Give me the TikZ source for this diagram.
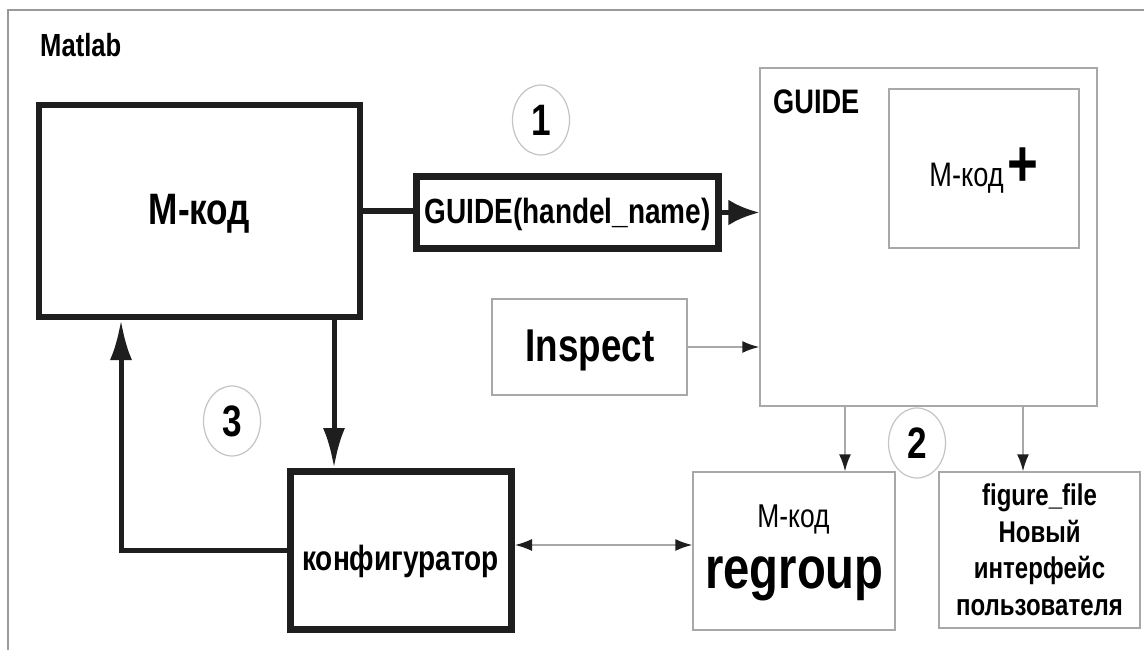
\documentclass[tikz,border=0pt]{standalone}
\usepackage{fontspec}
\setmainfont{Liberation Sans}[FakeStretch=0.8]
\usetikzlibrary{arrows.meta,shapes.geometric}
\definecolor{ink}{HTML}{1E1E1E}
\definecolor{thin}{HTML}{A8A8A8}
\definecolor{framec}{HTML}{9A9A9A}
\definecolor{circc}{HTML}{C4C4C4}
\begin{document}
\begin{tikzpicture}[x=1pt,y=-1pt,
  thickbox/.style={draw=ink, line width=6pt, rectangle, inner sep=0pt, fill=white},
  thinbox/.style={draw=thin, line width=1.5pt, rectangle, inner sep=0pt, fill=white},
  numc/.style={ellipse, draw=circc, line width=1.2pt, minimum width=57pt, minimum height=70pt, inner sep=0pt, fill=white, font=\fontsize{44}{44}\selectfont\bfseries},
  lbl/.style={inner sep=0pt, anchor=base},
  bigarrow/.style={draw=ink, line width=5pt, -{Latex[length=40pt,width=22pt]}},
  headarrow/.style={draw=ink, line width=5pt, -{Latex[length=31pt,width=26pt]}},
  thinarrow/.style={draw=thin, line width=1.5pt, -{Latex[length=17pt,width=12pt,color=ink]}},
  thinboth/.style={draw=thin, line width=1.5pt, {Latex[length=17pt,width=12pt,color=ink]}-{Latex[length=17pt,width=12pt,color=ink]}}
]
\useasboundingbox (0,0) rectangle (1144,650);
\fill[white] (0,0) rectangle (1144,650);
% frame
\draw[framec, line width=1.5pt] (1144,10) -- (8,10) -- (8,650);
\node[lbl, anchor=base west, font=\fontsize{32}{32}\selectfont\bfseries] (matlab) at (40,57) {Matlab};

% boxes
\node[thickbox, minimum width=321pt, minimum height=212pt] (mkod) at (199.5,211) {};
\node[lbl, font=\fontsize{44}{44}\selectfont\bfseries] (mkodt) at (199.5,225) {М-код};

\node[thickbox, line width=7pt, minimum width=302pt, minimum height=72pt] (gh) at (567.5,212.5) {};
\node[lbl, font=\fontsize{35}{35}\selectfont\bfseries] (ght) at (567.5,223) {GUIDE(handel\_name)};

\node[thinbox, minimum width=337pt, minimum height=338pt] (guide) at (928.5,237) {};
\node[lbl, anchor=base west, font=\fontsize{34}{34}\selectfont\bfseries] (guidet) at (773,114) {GUIDE};
\node[thinbox, minimum width=190pt, minimum height=159pt] (inner) at (984,168.5) {};
\node[lbl, font=\fontsize{34}{34}\selectfont] (innert) at (984,187) {М-код\hspace{4pt}{\fontsize{66}{66}\selectfont\bfseries +}};

\node[thinbox, minimum width=195pt, minimum height=96pt] (insp) at (589.5,347) {};
\node[lbl, font=\fontsize{46}{46}\selectfont\bfseries] (inspt) at (590,361) {Inspect};

\node[thickbox, line width=7pt, minimum width=221pt, minimum height=158pt] (konf) at (401,550.5) {};
\node[lbl, font=\fontsize{35}{35}\selectfont\bfseries] (konft) at (400.5,570) {конфигуратор};

\node[thinbox, minimum width=202pt, minimum height=158pt] (regr) at (794,551) {};
\node[lbl, font=\fontsize{33}{33}\selectfont] (regrm) at (793.5,527) {М-код};
\node[lbl, font=\fontsize{59}{59}\selectfont\bfseries] (regrt) at (794.5,588) {regroup};

\node[thinbox, minimum width=201pt, minimum height=156pt, align=center,
      font=\fontsize{30}{36.5}\selectfont\bfseries] (fig) at (1039.5,550)
  {figure\_file\\Новый\\интерфейс\\пользователя};

% helper coordinates
\coordinate (dn) at (334,0);
\coordinate (up) at (121,0);
\coordinate (bi) at (0,545);
\coordinate (d1) at (845,0);
\coordinate (d2) at (1023,0);

% connectors
\draw[ink, line width=5pt] (mkod.east) -- (mkod.east -| gh.west);
\draw[headarrow] (gh.east) -- (gh.east -| guide.west);
\draw[thinarrow] (insp.east) -- (insp.east -| guide.west);
\draw[bigarrow] (mkod.south -| dn) -- (konf.north -| dn);
\draw[bigarrow] (konf.west) -| (mkod.south -| up);
\draw[thinboth] (konf.east |- bi) -- (regr.west |- bi);
\draw[thinarrow] (guide.south -| d1) -- (regr.north -| d1);
\draw[thinarrow] (guide.south -| d2) -- (fig.north -| d2);

% numbered ellipses
\node[numc] (n1) at (541,120) {1};
\node[numc] (n3) at (232,421) {3};
\node[numc] (n2) at (917,443) {2};
\end{tikzpicture}
\end{document}
